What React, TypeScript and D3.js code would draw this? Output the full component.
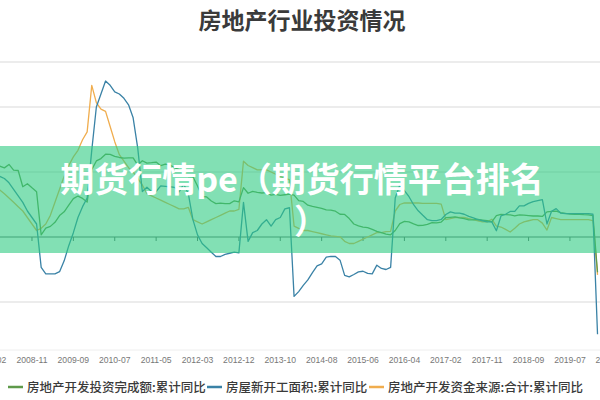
import React from "react";
import * as d3 from "d3";

const tickLabels = ["2008-02","2008-11","2009-09","2010-07","2011-05","2012-03","2012-12","2013-10","2014-08","2015-06","2016-04","2017-02","2017-11","2018-09","2019-07","2020-05"];
const tickStep = 9;

// 房地产开发投资完成额:累计同比 (monthly, Jan merged into Feb), 2008-02 .. 2020-02
const investment = [
  32.9, 32.2, 32.7, 31.9, 33.5, 30.9, 30.7, 23.2, 24.6, 22.7, 20.9,
  1.0, 4.1, 4.9, 6.8, 9.9, 11.6, 14.7, 17.7, 18.9, 17.8, 16.1,
  31.1, 35.1, 36.2, 38.2, 38.1, 37.2, 36.7, 36.4, 36.5, 36.5, 33.2,
  35.2, 34.1, 34.3, 34.6, 32.9, 33.6, 33.2, 32.0, 31.1, 29.9, 27.9,
  27.8, 23.5, 18.7, 18.5, 16.6, 15.4, 15.6, 15.4, 15.4, 16.7, 16.2,
  22.8, 20.2, 21.1, 20.6, 20.3, 20.5, 19.3, 19.7, 19.2, 19.5, 19.8,
  19.3, 16.8, 16.4, 14.7, 14.1, 13.7, 13.2, 12.5, 12.4, 11.9, 10.5,
  10.4, 8.5, 6.0, 5.1, 4.6, 4.3, 3.5, 2.6, 2.0, 1.3, 1.0,
  3.0, 6.2, 7.2, 7.0, 6.1, 5.3, 5.4, 5.8, 6.6, 6.5, 6.9,
  8.9, 9.1, 9.3, 8.8, 8.5, 7.9, 7.9, 8.1, 7.8, 7.5, 7.0,
  9.9, 10.4, 10.3, 10.2, 9.7, 10.2, 10.1, 9.9, 9.7, 9.7, 9.5,
  11.6, 11.8, 11.9, 11.2, 10.9, 10.6, 10.5, 10.5, 10.3, 10.2, 9.9,
  -16.3,
];

// 房屋新开工面积:累计同比
const newStarts = [
  28, 28, 28, 27, 25, 22, 19, 16, 12, 9, 6,
  -14, -17, -17, -17, -16, -11, -4, 2, 9, 14, 18,
  40, 60, 66, 72, 70, 67, 66, 64, 61, 55, 41,
  21, 23, 21, 21, 23.6, 23.4, 23.2, 22.9, 20.8, 24.4, 20,
  8, 1, -3, -5, -7, -9, -9, -8, -7.5, -7, -7.3,
  16, -2, 2, 3, 6, 8, 5, 8, 9, 13, 13.5,
  -27.4, -25.2, -22.3, -19.8, -16.4, -13.3, -12.4, -9.3, -8.9, -9.0, -10.7,
  -17.7, -18.4, -17.3, -16.1, -15.8, -16.8, -17.0, -13, -14.5, -15, -14.0,
  18, 24, 21.4, 18.6, 14.9, 12.1, 10, 8, 7.6, 7.6, 8.1,
  10.4, 11.6, 11, 11, 10.5, 9.5, 8.8, 8, 7.5, 7, 7,
  2.9, 9.7, 10.5, 11.8, 11.8, 14.4, 14.4, 15.5, 16.3, 16.8, 17.2,
  6.0, 11.9, 13.1, 11, 10.8, 10.8, 10.8, 10.8, 10.8, 10.8, 10.5,
  -44.9,
];

// 房地产开发资金来源:合计:累计同比
const funds = [
  22, 21, 21.7, 20, 18, 16, 14, 12, 9, 6, 3,
  4, 6, 10, 16, 22, 28, 33, 37, 40, 44.9, 48.5,
  70, 62, 59, 58, 51, 44, 38, 35, 32, 30, 27,
  24, 20, 19, 18, 17, 16, 15, 14, 13, 13, 13.7,
  8, 7, 6, 7, 8, 9, 10, 11, 12, 12, 12.7,
  35, 33, 32, 31, 31, 31, 30, 29, 28, 27, 26.5,
  5, 4, 3, 3, 2.5, 2, 1.5, 1, 0.5, 0.3, 0.1,
  -2, -3, -3, -2, -1, 0, 1, 2, 2, 2.5, 2.6,
  12, 15, 15.7, 15.7, 15.7, 15.7, 15.5, 15.5, 15.5, 15.5, 15.2,
  8, 8.5, 9, 9, 9, 8.5, 8, 7.5, 7, 7, 8.2,
  5, 4.6, 3.5, 2.3, 4, 6, 7, 7.5, 8, 8, 6.4,
  3.2, 9, 8.5, 8, 8, 8, 8, 8, 8, 8, 7.6,
  -17.5,
];

const seriesNames = ["房地产开发投资完成额:累计同比", "房屋新开工面积:累计同比", "房地产开发资金来源:合计:累计同比"];
const seriesColors = ["#5e9a4a", "#3a82a6", "#f0ad4e"];
const yTicks = [-30, 0, 30, 60];

const title = "房地产行业投资情况";
const bannerLine1 = "期货行情pe（期货行情平台排名";
const bannerLine2 = "）";

const FONT = "'Noto Sans CJK SC', 'Noto Sans', sans-serif";

export default function App() {
  const W = 600, H = 400;
  const x = d3.scaleLinear().domain([0, 135]).range([-9.4, -9.4 + 135 * 4.598]);
  const y = d3.scaleLinear().domain([-60, 90]).range([367, 42]);
  const line = d3.line<number>().x((_, i) => x(i)).y((d) => y(d));
  const all = [investment, newStarts, funds];
  const drawOrder = [2, 0, 1];
  const legendX = [8, 207, 369];

  return (
    <svg width={W} height={H} style={{ position: "absolute", left: 0, top: 0, background: "#fff" }} fontFamily={FONT}>
      <rect width={W} height={H} fill="#fff" />
      <text x={302} y={29} textAnchor="middle" fontSize={23} fontWeight={700} fill="#3a3a3a">{title}</text>

      {/* frame lines */}
      <line x1={0} x2={W} y1={62} y2={62} stroke="#e6e6e6" strokeWidth={1.5} />
      <line x1={0} x2={W} y1={350} y2={350} stroke="#eeeeee" strokeWidth={1} />
      {yTicks.filter((t) => t !== 0).map((t) => (
        <line key={t} x1={0} x2={W} y1={y(t)} y2={y(t)} stroke="#e6e6e6" strokeWidth={1.5} />
      ))}
      {/* zero axis */}
      <line x1={0} x2={W} y1={y(0)} y2={y(0)} stroke="#5a6a66" strokeWidth={1} />
      {tickLabels.map((_, i) => (
        <line key={i} x1={x(i * tickStep)} x2={x(i * tickStep)} y1={y(0)} y2={y(0) + 4} stroke="#5a6a66" strokeWidth={1} />
      ))}

      {drawOrder.map((k) => (
        <path key={k} d={line(all[k]) || ""} fill="none" stroke={seriesColors[k]} strokeWidth={1.3} strokeLinejoin="round" />
      ))}

      {tickLabels.map((lab, i) => (
        <text key={lab} x={x(i * tickStep)} y={363} textAnchor="middle" fontSize={8.6} fill="#777" fontFamily="'Liberation Sans', Arial, sans-serif">{lab}</text>
      ))}

      {/* legend */}
      {seriesNames.map((n, i) => (
        <g key={n} transform={`translate(${legendX[i]},387)`}>
          <line x1={0} x2={15} y1={0} y2={0} stroke={seriesColors[i]} strokeWidth={2.5} />
          <text x={19} y={4.5} fontSize={12.5} fill="#3a3a3a" fontWeight={500}>{n}</text>
        </g>
      ))}

      {/* watermark banner */}
      <rect x={0} y={146} width={W} height={107} fill="rgb(46,204,130)" opacity={0.6} />
      <text x={302} y={192} textAnchor="middle" fontSize={34} fontWeight={700} fill="#fff">{bannerLine1}</text>
      <text x={294} y={234} fontSize={34} fontWeight={700} fill="#fff">{bannerLine2}</text>
    </svg>
  );
}
